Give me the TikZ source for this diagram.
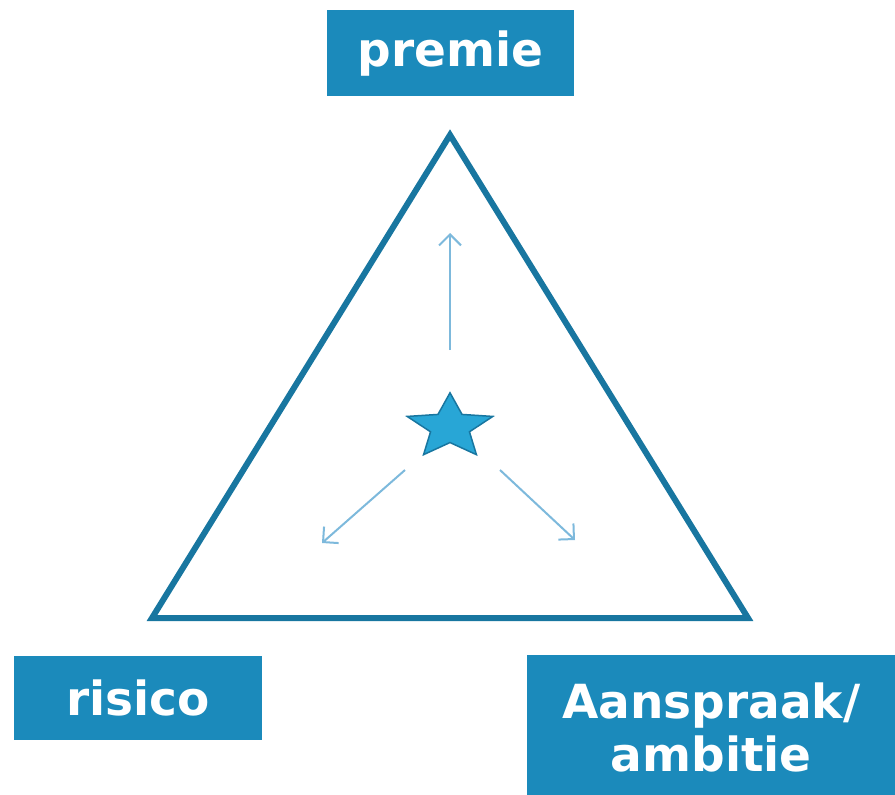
\documentclass[tikz,border=0pt]{standalone}
\usepackage{fontspec}
\setmainfont{DejaVu Sans}
\usetikzlibrary{shapes.geometric,arrows.meta}
\definecolor{boxblue}{RGB}{27,138,187}
\definecolor{edgeblue}{RGB}{24,118,160}
\definecolor{starblue}{RGB}{40,166,214}
\definecolor{arrowblue}{RGB}{125,185,220}
\tikzset{
  label box/.style={fill=boxblue, text=white, font=\fontsize{47}{53}\selectfont\bfseries,
    inner sep=0pt, align=center, anchor=north west},
  push/.style={draw=arrowblue, line width=2pt, -{Straight Barb[length=11pt,width=22pt,line width=2pt]}},
}
\begin{document}
\begin{tikzpicture}[x=1pt,y=-1pt]
  \useasboundingbox (0,0) rectangle (895,795);
  % labelled corner boxes
  \node[label box, minimum width=247pt, minimum height=86pt] (premie) at (327,10) {premie};
  \node[label box, minimum width=248pt, minimum height=84pt] (risico) at (14,656) {risico};
  \node[label box, minimum width=368pt, minimum height=145pt, text width=368pt] (aanspraak) at (527,655)
    {\rule{0pt}{36pt}Aanspraak/\\ambitie};
  % triangle
  \coordinate (top) at (450,135);
  \coordinate (bl) at (152,618);
  \coordinate (br) at (748,618);
  \draw[edgeblue, line width=6pt, line join=miter] (top) -- (bl) -- (br) -- cycle;
  % centre star, slightly flattened
  \node[star, star points=5, star point ratio=2.2, minimum size=90pt, inner sep=0pt,
        fill=starblue, draw=edgeblue, line width=1.5pt, yscale=0.76, transform shape] (star) at (450,427) {};
  % arrows pointing out towards the corners
  \coordinate (up0) at (450,350);
  \coordinate (up1) at (450,233);
  \coordinate (l0) at (405,470);
  \coordinate (l1) at (322,543);
  \coordinate (r0) at (500,470);
  \coordinate (r1) at (575,540);
  \draw[push] (up0) -- (up1);
  \draw[push] (l0) -- (l1);
  \draw[push] (r0) -- (r1);
\end{tikzpicture}
\end{document}
